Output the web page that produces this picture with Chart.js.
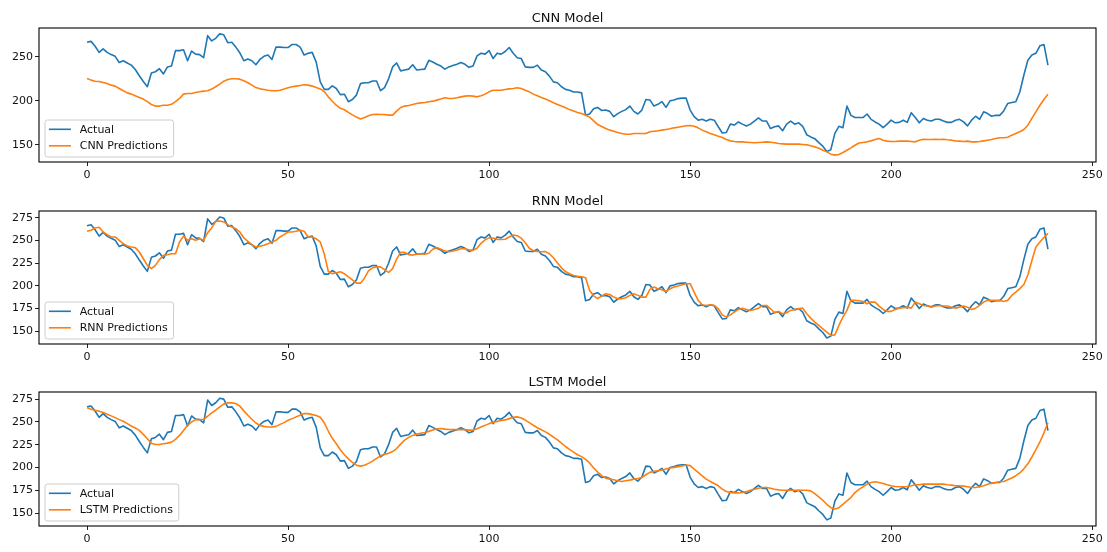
<!DOCTYPE html>
<html>
<head>
<meta charset="utf-8">
<title>CNN / RNN / LSTM predictions vs actual</title>
<script src="https://cdn.jsdelivr.net/npm/chart.js@4.4.1/dist/chart.umd.min.js"></script>
<style>
  html, body { margin: 0; padding: 0; background: #fff; width: 1107px; height: 552px; overflow: hidden; }
  canvas { position: absolute; left: 0; top: 0; }
</style>
</head>
<body>
<canvas id="cnnChart" width="1107" height="552"></canvas>
<canvas id="rnnChart" width="1107" height="552"></canvas>
<canvas id="lstmChart" width="1107" height="552"></canvas>
<script>
// ---- data ---------------------------------------------------------------
const actual = [
  266.5, 267.5, 262, 255, 259, 255, 252.5, 250.5, 243.5, 245.5,
  243, 240.5, 235.5, 228.5, 222, 216, 231.5, 233, 236.5, 230.5,
  238.5, 239.5, 257, 257, 258, 245.5, 256.5, 253, 252.5, 249,
  274, 268, 271, 276, 275, 266, 266.5, 261, 254.5, 245.5,
  247.5, 245.5, 241, 247, 250.5, 252, 247, 261, 261, 260.5,
  260.5, 264, 264, 261, 252, 254, 255, 244, 221.5, 213,
  213, 217, 214, 207, 207.5, 199, 201.5, 206.5, 219.5, 220.5,
  220.5, 222.5, 222.5, 211.5, 215, 225, 238.5, 243, 234, 235,
  236, 241, 235, 235.5, 236, 246, 244, 241.5, 239.5, 236,
  238.5, 240, 241.5, 243.5, 241.5, 238, 239.5, 251, 254, 253,
  257, 248, 254, 253, 256, 260.5, 254, 249, 248, 238.5,
  238, 238, 240.5, 235, 233, 228, 221.5, 220.5, 216, 213,
  212, 210, 210, 209, 183.5, 185, 191, 192.5, 189, 189.5,
  188, 182, 185.5, 188, 190, 194, 188, 185, 189.5, 201.5,
  201, 194, 196, 199, 192.5, 200, 201, 202.5, 203, 203,
  189.5, 182, 178, 179, 177, 179, 178, 170.5, 163.5, 164,
  173.5, 172.5, 176, 173.5, 171.5, 173.5, 177, 180.5, 177, 177,
  168.5, 170.5, 171.5, 166, 173.5, 177, 173.5, 175, 171, 161.5,
  159, 157, 152.5, 148.5, 142.5, 144.5, 163, 171, 169.5, 194,
  183.5, 181, 181, 181, 185, 179, 176, 173.5, 169.5, 173.5,
  178, 175, 175.5, 178, 175.5, 186.5, 181, 175, 180, 178,
  177, 179, 179, 177, 175.5, 175.5, 178, 179, 176, 171.5,
  178, 182.5, 179, 187.5, 185.5, 182.5, 183.5, 183.5, 188.5, 197,
  198, 199, 210, 229, 246, 252, 254, 262.5, 264, 240.5
];

const cnnPredictions = [
  225.4, 223.5, 222.3, 222, 220.8, 219.7, 217.8, 216.7, 214, 211.4,
  209, 207.6, 205.7, 203.8, 202, 199, 195.8, 194, 194, 195,
  195, 196, 199, 202.7, 207.6, 208.3, 208.3, 209.5, 210.2, 211,
  211.4, 213.3, 216, 219, 222.3, 224.2, 225, 225, 224.6, 222.7,
  220.5, 217.8, 215, 213.6, 212.9, 212, 211.4, 211.4, 212, 213.3,
  214.8, 216, 216.7, 217.4, 218.2, 217.8, 216.7, 215, 213.5, 210.5,
  204.5, 199.5, 195, 191.5, 189.8, 186.8, 184, 181.5, 179.4, 181,
  183, 184.5, 184.8, 184.5, 184.5, 183.7, 183.7, 188.3, 192.4, 194,
  194.7, 195.8, 197, 197.7, 198, 198.9, 199.6, 200.8, 202, 203.4,
  202.7, 202.7, 203.4, 204.5, 205.3, 205.7, 205.3, 204.5, 205.7, 207.6,
  210.2, 212, 212, 212, 212.9, 213.6, 214, 214.8, 214, 212,
  210.2, 207.6, 205.7, 203.8, 202, 200, 197.7, 195.8, 194, 192,
  190, 188.3, 186.7, 185.6, 183.7, 181.5, 177.3, 173, 170.8, 168.6,
  166.7, 165.5, 164, 162.9, 162, 162, 162.9, 162.9, 162.9, 162.9,
  164.8, 165.5, 165.9, 166.7, 167.4, 168.2, 169.3, 170, 170.8, 171.6,
  172, 171.2, 169.3, 166.7, 164.8, 162.9, 161.4, 159.8, 158.3, 156,
  154.5, 153.8, 153.4, 153.4, 153, 152.7, 152.3, 152.7, 153, 153.4,
  153, 152.3, 151.5, 151.1, 150.8, 150.8, 150.8, 150.8, 150.4, 150,
  148.9, 147.7, 146.2, 143.9, 142, 139.4, 138.3, 139, 141.3, 143.9,
  146.5, 149.5, 152, 152.7, 153.4, 154.5, 156, 157.2, 155.3, 154.2,
  153.8, 153.8, 154.2, 154.2, 154.2, 153.8, 153.4, 155.3, 156.4, 156,
  156, 156.4, 156, 156.4, 155.7, 155.3, 154.5, 154.2, 153.8, 154.2,
  153.4, 153.4, 153.8, 154.5, 155.3, 156, 157.2, 158, 158, 158.7,
  161, 162.9, 164.8, 167.4, 172.3, 180, 187.5, 195, 201.5, 207.6
];

const rnnPredictions = [
  260.3, 261.4, 264, 264.7, 259.5, 256.6, 254, 254, 250.3, 246.6,
  244, 243, 242.2, 237.4, 230, 222.6, 219, 222.6, 229, 233.7,
  234.4, 235.5, 235.5, 248.5, 255, 250.3, 252, 250.3, 252, 250.3,
  258.8, 264, 271.3, 271.7, 270.6, 267.6, 265, 263.2, 259.5, 252.9,
  249.2, 245.5, 243, 243.7, 244.8, 246.6, 248.5, 250.3, 254, 256.6,
  259.5, 259.5, 260.3, 261.4, 260.3, 254, 254, 252, 248.5, 235.5,
  216, 213.4, 214.5, 215.5, 213.5, 210, 206.5, 203, 203, 208.5,
  216.5, 220, 221, 221, 218, 214.8, 219, 229.5, 237, 237,
  234.5, 234, 235, 235.5, 235, 236, 240.5, 242.5, 240.5, 238.5,
  237.7, 238.6, 239.7, 241, 241, 239.8, 239.2, 241.5, 247, 250.8,
  253, 252.8, 251.4, 251.2, 251.5, 254, 256.2, 255.3, 252.7, 247.7,
  241.6, 238.8, 238, 237.7, 237.8, 235.5, 231, 225.4, 219.9, 215.8,
  213.4, 211.5, 210.6, 210.1, 209, 195, 189, 186, 188.7, 191.3,
  190.5, 187.6, 185.8, 185.8, 186.9, 189.5, 191.3, 189.5, 187.6, 187.6,
  196.1, 198.7, 196.8, 195.7, 193.9, 196.8, 198.7, 199.8, 201.3, 202.4,
  202.4, 193.1, 184, 179.1, 178.4, 179.1, 178.4, 174.7, 168, 165.5,
  168, 171, 174, 175.4, 174, 172.9, 174, 175.4, 178.4, 178.4,
  174.7, 170.3, 171.8, 169.2, 170.3, 172.9, 174, 174.7, 175.4, 169.2,
  164.4, 160, 156.3, 152.6, 148.9, 145.2, 145.9, 156.3, 165.5, 172.9,
  184, 184, 183.5, 182.8, 180.2, 182.1, 182.1, 177.7, 174, 171.8,
  171.8, 174, 175.4, 175.8, 176.5, 175.4, 182.1, 180.2, 178.4, 177.7,
  176.5, 177.7, 178.4, 177.7, 177.7, 176.5, 175.4, 176.5, 177.7, 176.5,
  174, 175.4, 178.4, 182.1, 184, 184, 184, 184, 182.8, 184,
  189.5, 193.1, 197, 201.5, 212, 228, 243, 248.5, 253.5, 258
];

const lstmPredictions = [
  265.4, 263.9, 262.8, 261.7, 260.3, 258.4, 256.6, 254.7, 252.5, 250.7,
  248.1, 245.5, 243.3, 240.7, 236.3, 231.5, 226.7, 225.2, 225.2, 226,
  226.7, 227.8, 230.8, 235.2, 240.7, 246.2, 249.9, 252.5, 252.5, 252.9,
  256.2, 259.9, 262.8, 266.5, 269.5, 270.9, 270.9, 270.2, 267.3, 262.1,
  257.3, 252.9, 248.8, 246.2, 245.1, 244.4, 244.4, 245.1, 247.3, 249.2,
  251.8, 253.6, 255.5, 257.3, 259.1, 259.1, 258, 257, 255, 249,
  240, 232, 226, 219.5, 214, 209.5, 205.5, 202.5, 201.5, 202.5,
  204.5, 207, 210, 212.8, 214.5, 215.5, 217.5, 220.8, 225.6, 230,
  233, 235.2, 236.6, 237.5, 238.4, 239.6, 241.1, 242.5, 242.8, 242.1,
  241.6, 241.5, 241.5, 241.5, 241.5, 241, 241, 242.6, 244.5, 246.2,
  248.1, 249.5, 250.5, 251.5, 252.2, 253.6, 255, 255.5, 254.3, 252,
  249.2, 246.3, 243.6, 241.4, 239.1, 236.4, 233.4, 230.2, 226.7, 223,
  219.8, 216.8, 214, 211.9, 208.8, 205, 199.5, 195, 191, 188.3,
  187.2, 186.5, 185.4, 184.7, 185.4, 186.1, 187.2, 188, 189.1, 192,
  194.6, 195.7, 196.5, 197.2, 198.3, 199.4, 200.1, 200.9, 201.6, 202.7,
  202, 198.3, 194.6, 190.9, 187.2, 184.7, 182.4, 179.9, 176.2, 173.6,
  172.5, 172.1, 172.1, 172.5, 173.6, 175.1, 176.2, 177.3, 178, 178,
  177.3, 176.2, 175.4, 175.1, 175.1, 175.1, 175.1, 175.1, 175.1, 175.1,
  174.3, 171.4, 167.7, 164, 159.6, 155.9, 154.4, 155.9, 159.6, 163.3,
  167, 172.5, 176, 178.8, 181.7, 183.6, 184.3, 183.6, 182.4, 181,
  179.9, 179.1, 178.8, 178.8, 179.1, 179.9, 181, 181, 181.7, 181.7,
  181.7, 181.7, 181.7, 181.7, 181, 180.6, 179.9, 179.9, 179.5, 178.8,
  178, 178, 178.8, 179.9, 181.7, 182.8, 183.6, 184.3, 184.7, 186.5,
  188.5, 191, 194, 198.5, 204, 211.5, 219.5, 228, 238, 249
];

// time-step index for every sample
const timeSteps = actual.map((_, i) => i);

// tick labels
const xTickValues = [0, 50, 100, 150, 200, 250];
const cnnYTickValues = [150, 200, 250];
const rnnYTickValues = [150, 175, 200, 225, 250, 275];
const lstmYTickValues = [150, 175, 200, 225, 250, 275];

// ---- styling --------------------------------------------------------------
const BLUE = '#1f77b4';
const ORANGE = '#ff7f0e';
const FONT = '"DejaVu Sans", "Liberation Sans", sans-serif';
const TEXT = '#111';
const PAGE_W = 1107, PAGE_H = 552;
const PLOT_LEFT = 39, PLOT_RIGHT = 1096;
const X_AXIS_H = 20;

// frame, title and inset legend drawn the way the subplots are styled
const panelDecor = {
  id: 'panelDecor',
  afterDraw(chart, args, opts) {
    const { ctx, chartArea: a } = chart;
    ctx.save();

    // axes frame
    ctx.strokeStyle = '#000';
    ctx.lineWidth = 1.1;
    ctx.strokeRect(a.left, a.top, a.right - a.left, a.bottom - a.top);

    // title centred over the plot area
    ctx.fillStyle = TEXT;
    ctx.font = '13px ' + FONT;
    ctx.textAlign = 'center';
    ctx.textBaseline = 'alphabetic';
    ctx.fillText(opts.title, (a.left + a.right) / 2, a.top - 6.5);

    // legend, lower-left corner inside the axes
    const fs = 11;
    ctx.font = fs + 'px ' + FONT;
    const items = chart.data.datasets;
    const textW = Math.max(...items.map(d => ctx.measureText(d.label).width));
    const pad = 4.4, handle = 22, gap = 8.8;
    const w = pad * 2 + handle + gap + textW + 1;
    const h = 37;
    const x = a.left + 5.5;
    const y = a.bottom - 5.5 - h;
    ctx.beginPath();
    if (ctx.roundRect) ctx.roundRect(x + 0.5, y + 0.5, w, h, 2.5);
    else ctx.rect(x + 0.5, y + 0.5, w, h);
    ctx.fillStyle = 'rgba(255,255,255,0.8)';
    ctx.fill();
    ctx.strokeStyle = '#cccccc';
    ctx.lineWidth = 1;
    ctx.stroke();

    ctx.textAlign = 'left';
    ctx.textBaseline = 'middle';
    items.forEach((d, k) => {
      const cy = y + 9.8 + k * 16.5;
      ctx.beginPath();
      ctx.moveTo(x + pad, cy);
      ctx.lineTo(x + pad + handle, cy);
      ctx.strokeStyle = d.borderColor;
      ctx.lineWidth = 1.6;
      ctx.stroke();
      ctx.fillStyle = TEXT;
      ctx.fillText(d.label, x + pad + handle + gap, cy + 0.5);
    });

    ctx.restore();
  }
};

function makePanel(canvasId, title, predLabel, predictions, yMin, yMax, yTicks, top, bottom) {
  const tickFont = { family: FONT, size: 11 };
  return new Chart(document.getElementById(canvasId), {
    type: 'line',
    data: {
      labels: timeSteps,
      datasets: [
        { label: 'Actual', data: actual, borderColor: BLUE, backgroundColor: BLUE, order: 2 },
        { label: predLabel, data: predictions, borderColor: ORANGE, backgroundColor: ORANGE, order: 1 }
      ]
    },
    options: {
      responsive: false,
      animation: false,
      devicePixelRatio: 1,
      events: [],
      layout: {
        padding: { left: 0, right: PAGE_W - PLOT_RIGHT, top: top, bottom: PAGE_H - bottom - X_AXIS_H }
      },
      elements: {
        point: { radius: 0 },
        line: { tension: 0, borderWidth: 1.6, borderJoinStyle: 'round', borderCapStyle: 'butt' }
      },
      plugins: {
        legend: { display: false },
        tooltip: { enabled: false },
        title: { display: false },
        panelDecor: { title: title }
      },
      scales: {
        x: {
          type: 'linear',
          min: -11.95,
          max: 250.95,
          afterBuildTicks: s => { s.ticks = xTickValues.map(v => ({ value: v })); },
          afterFit: s => { s.height = X_AXIS_H; },
          border: { display: false },
          grid: { drawOnChartArea: false, drawTicks: true, tickLength: 4, tickColor: '#222', tickWidth: 1 },
          ticks: { autoSkip: false, maxRotation: 0, padding: 3, color: TEXT, font: tickFont, callback: v => String(v) }
        },
        y: {
          type: 'linear',
          min: yMin,
          max: yMax,
          afterBuildTicks: s => { s.ticks = yTicks.map(v => ({ value: v })); },
          afterFit: s => { s.width = PLOT_LEFT; },
          border: { display: false },
          grid: { drawOnChartArea: false, drawTicks: true, tickLength: 4, tickColor: '#222', tickWidth: 1 },
          ticks: { autoSkip: false, padding: 2, color: TEXT, font: tickFont, callback: v => String(v) }
        }
      }
    },
    plugins: [panelDecor]
  });
}

makePanel('cnnChart', 'CNN Model', 'CNN Predictions', cnnPredictions, 130.5, 282.7, cnnYTickValues, 28, 162);
makePanel('rnnChart', 'RNN Model', 'RNN Predictions', rnnPredictions, 135.8, 282.7, rnnYTickValues, 211, 344);
makePanel('lstmChart', 'LSTM Model', 'LSTM Predictions', lstmPredictions, 135.8, 282.8, lstmYTickValues, 392, 526);
</script>
</body>
</html>
